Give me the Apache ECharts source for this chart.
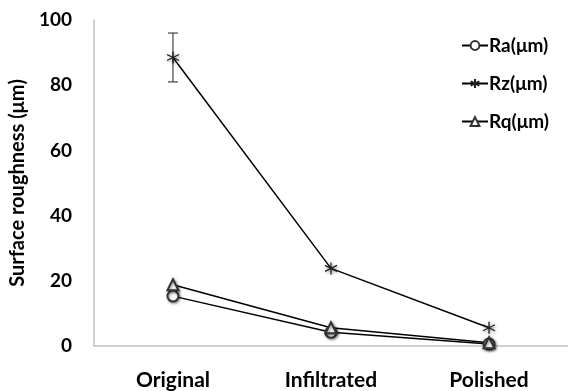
<!DOCTYPE html>
<html><head><meta charset="utf-8">
<script src="https://cdn.jsdelivr.net/npm/echarts@6/dist/echarts.min.js"></script>
<style>html,body{margin:0;padding:0;background:#fff}#c{width:568px;height:391px}</style>
</head><body><div id="c"></div>
<script>
const categories = ['Original', 'Infiltrated', 'Polished'];
const ra = [15.3, 4.2, 0.6];
const rz = [88.5, 23.8, 5.6];
const rq = [18.8, 5.6, 1.0];
const rzErr = [7.5, 0, 0];
const yTicks = [0, 20, 40, 60, 80, 100];

const FONT = 'Lato';
const asterisk = 'path://M0,-10L0,10M-8.7,-5L8.7,5M-8.7,5L8.7,-5';
const shadow = {shadowBlur: 3, shadowColor: 'rgba(0,0,0,0.45)', shadowOffsetX: 1, shadowOffsetY: 1};

const chart = echarts.init(document.getElementById('c'));
function lineSeries(name, data, symbol, size) {
  return {
    name, type: 'line', data, symbol, symbolSize: size,
    lineStyle: {color: '#000', width: 1.5},
    itemStyle: Object.assign({color: '#333', borderColor: '#333', borderWidth: 1.2}, shadow),
    emphasis: {disabled: true}
  };
}
chart.setOption({
  animation: false,
  grid: {left: 90, top: 20, right: -2, bottom: 43, containLabel: false},
  legend: {
    orient: 'vertical', left: 456, top: 31, itemGap: 19, itemWidth: 26, itemHeight: 11,
    textStyle: {fontFamily: FONT, fontWeight: 'bold', fontSize: 19, color: '#000', padding: [0,0,0,-4]},
    data: ['Ra(μm)', 'Rz(μm)', 'Rq(μm)']
  },
  xAxis: {
    type: 'category', data: categories, boundaryGap: true,
    axisLine: {show: true, lineStyle: {color: '#c0c0c0', width: 1.5}},
    axisTick: {show: false},
    axisLabel: {fontFamily: FONT, fontWeight: 'bold', fontSize: 21, color: '#000', margin: 24}
  },
  yAxis: {
    type: 'value', min: yTicks[0], max: yTicks[yTicks.length-1], interval: 20,
    name: 'Surface roughness (μm)', nameLocation: 'middle', nameGap: 54, nameRotate: 90,
    nameTextStyle: {fontFamily: FONT, fontWeight: 'bold', fontSize: 20, color: '#000'},
    axisLine: {show: true, lineStyle: {color: '#c0c0c0', width: 1.5}},
    axisTick: {show: false},
    splitLine: {show: false},
    axisLabel: {fontFamily: FONT, fontWeight: 'bold', fontSize: 19, color: '#000', margin: 22}
  },
  series: [
    lineSeries('Ra(μm)', ra, 'emptyCircle', 11),
    {
      name: 'Rz(μm)', type: 'line', data: rz, symbol: asterisk, symbolSize: 12,
      lineStyle: {color: '#000', width: 1.5},
      itemStyle: Object.assign({color: 'none', borderColor: '#222', borderWidth: 1.3}, shadow),
      emphasis: {disabled: true}
    },
    lineSeries('Rq(μm)', rq, 'emptyTriangle', 11),
    {
      type: 'custom', name: 'err', silent: true,
      data: rz.map((v, i) => [i, v - rzErr[i], v + rzErr[i]]),
      renderItem: function (params, api) {
        const i = api.value(0);
        if (api.value(2) - api.value(1) <= 0) return;
        const lo = api.coord([i, api.value(1)]);
        const hi = api.coord([i, api.value(2)]);
        const w = 5;
        const st = {stroke: '#444', lineWidth: 1.2};
        return {type: 'group', children: [
          {type: 'line', shape: {x1: lo[0], y1: lo[1], x2: hi[0], y2: hi[1]}, style: st},
          {type: 'line', shape: {x1: lo[0]-w, y1: lo[1], x2: lo[0]+w, y2: lo[1]}, style: st},
          {type: 'line', shape: {x1: hi[0]-w, y1: hi[1], x2: hi[0]+w, y2: hi[1]}, style: st}
        ]};
      },
      z: 1
    }
  ]
});
</script></body></html>
